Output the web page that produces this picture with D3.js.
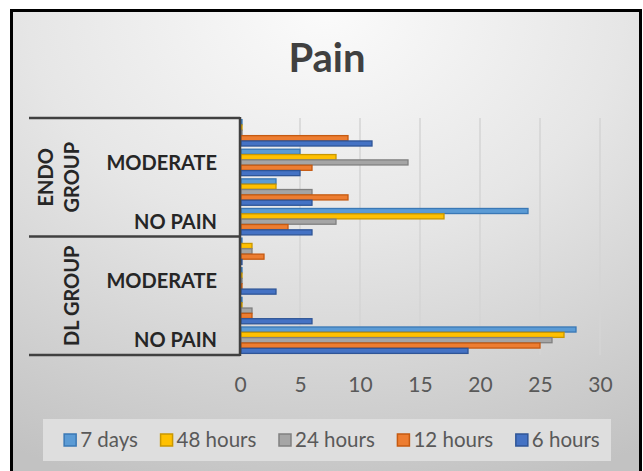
<!DOCTYPE html>
<html><head><meta charset="utf-8">
<script src="https://cdn.jsdelivr.net/npm/d3@7"></script>
<style>html,body{margin:0;padding:0;background:#fff}svg{display:block}</style>
</head><body>
<svg id="chart" width="643" height="471"></svg>
<script>
// ---- data ----
const groups = ["ENDO GROUP", "DL GROUP"];            // top to bottom
const categories = ["SEVERE", "MODERATE", "MILD", "NO PAIN"]; // top to bottom inside each group
const shownCategories = ["MODERATE", "NO PAIN"];
const seriesNames = ["7 days", "48 hours", "24 hours", "12 hours", "6 hours"];
const seriesColors = ["#5B9BD5", "#FFC000", "#A5A5A5", "#ED7D31", "#4472C4"];
const seriesStrokes = ["#3A78B5", "#C99700", "#808080", "#C55A11", "#2F5597"];
// values per series, in order [NO PAIN, MILD, MODERATE, SEVERE]
const dl7days   = [28, 0, 0, 0];
const dl48hours = [27, 0, 0, 1];
const dl24hours = [26, 1, 0, 1];
const dl12hours = [25, 1, 0, 2];
const dl6hours  = [19, 6, 3, 0];
const endo7days   = [24, 3, 5, 0];
const endo48hours = [17, 3, 8, 0];
const endo24hours = [8, 6, 14, 0];
const endo12hours = [4, 9, 6, 9];
const endo6hours  = [6, 6, 5, 11];
const levelOrder = ["NO PAIN", "MILD", "MODERATE", "SEVERE"];
const xTicks = [0, 5, 10, 15, 20, 25, 30];

const groupData = {
  "DL GROUP":   [dl7days, dl48hours, dl24hours, dl12hours, dl6hours],
  "ENDO GROUP": [endo7days, endo48hours, endo24hours, endo12hours, endo6hours]
};

const svg = d3.select("#chart");
const W = 643, H = 471;
const defs = svg.append("defs");
const rg = defs.append("radialGradient").attr("id", "bg")
  .attr("cx", "50%").attr("cy", "0%").attr("r", "105%").attr("fx", "50%").attr("fy", "0%");
rg.append("stop").attr("offset", "0%").attr("stop-color", "#fbfbfb");
rg.append("stop").attr("offset", "45%").attr("stop-color", "#e6e6e6");
rg.append("stop").attr("offset", "100%").attr("stop-color", "#c2c2c2");

svg.append("rect").attr("width", W).attr("height", H).attr("fill", "#ffffff");
svg.append("rect").attr("x", 11.5).attr("y", 10.5).attr("width", 629).attr("height", 475)
  .attr("fill", "url(#bg)").attr("stroke", "#000").attr("stroke-width", 3);

// title
svg.append("text").attr("x", 327).attr("y", 72).attr("text-anchor", "middle")
  .attr("font-family", "Lato").attr("font-weight", "bold").attr("font-size", 40)
  .attr("fill", "#404040").text("Pain");

// scales
const x = d3.scaleLinear().domain([0, 30]).range([240, 600]);
const rows = [];
groups.forEach(g => categories.forEach(c => rows.push(g + "|" + c)));
const y = d3.scaleBand().domain(rows).range([118, 355]).paddingInner(0.09).paddingOuter(0.045);
const yi = d3.scaleBand().domain(seriesNames).range([0, y.bandwidth()]).padding(0.05);

// gridlines
svg.append("g").selectAll("line").data(xTicks.filter(d => d > 0)).join("line")
  .attr("x1", d => x(d)).attr("x2", d => x(d)).attr("y1", 118).attr("y2", 355)
  .attr("stroke", "#d4d4d4").attr("stroke-width", 1.5);

// bars
const bars = [];
groups.forEach(g => {
  seriesNames.forEach((s, si) => {
    groupData[g][si].forEach((v, li) => {
      bars.push({g, level: levelOrder[li], s, si, v});
    });
  });
});
svg.append("g").selectAll("rect").data(bars).join("rect")
  .attr("x", x(0) + 1)
  .attr("y", d => y(d.g + "|" + d.level) + yi(d.s))
  .attr("width", d => Math.max(1, x(d.v) - x(0) - 1))
  .attr("height", yi.bandwidth())
  .attr("fill", d => seriesColors[d.si])
  .attr("stroke", d => seriesStrokes[d.si])
  .attr("stroke-width", 1.3);

// category axis structure
const axisG = svg.append("g");
axisG.append("line").attr("x1", 240).attr("x2", 240).attr("y1", 117).attr("y2", 356)
  .attr("stroke", "#404040").attr("stroke-width", 2.5);
axisG.selectAll("line.sep").data([118, (118 + 355) / 2, 355]).join("line").attr("class", "sep")
  .attr("x1", 29).attr("x2", 240).attr("y1", d => d).attr("y2", d => d)
  .attr("stroke", "#404040").attr("stroke-width", 2.5);

// category labels (every other one shown)
const labelRows = [];
groups.forEach(g => shownCategories.forEach(c => labelRows.push({g, c})));
axisG.selectAll("text.cat").data(labelRows).join("text").attr("class", "cat")
  .attr("x", 217).attr("y", d => y(d.g + "|" + d.c) + y.bandwidth() / 2)
  .attr("dy", "0.36em").attr("text-anchor", "end")
  .attr("font-family", "Lato").attr("font-weight", "bold").attr("font-size", 20)
  .attr("fill", "#262626").text(d => d.c);

// group labels (rotated)
const groupCenter = g => {
  const first = y(g + "|" + categories[0]), last = y(g + "|" + categories[3]) + y.bandwidth();
  return (first + last) / 2;
};
const endoY = groupCenter("ENDO GROUP"), dlY = groupCenter("DL GROUP");
const gl = axisG.append("text").attr("transform", `translate(59,${endoY}) rotate(-90)`)
  .attr("text-anchor", "middle").attr("font-family", "Lato").attr("font-weight", "bold")
  .attr("font-size", 20).attr("fill", "#262626");
gl.append("tspan").attr("x", 0).attr("dy", "-0.3em").text("ENDO");
gl.append("tspan").attr("x", 0).attr("dy", "1.3em").text("GROUP");
axisG.append("text").attr("transform", `translate(72,${dlY}) rotate(-90)`)
  .attr("text-anchor", "middle").attr("dy", "0.36em").attr("font-family", "Lato").attr("font-weight", "bold")
  .attr("font-size", 20).attr("fill", "#262626").text("DL GROUP");

// x axis labels
const xAxis = d3.axisBottom(x).tickValues(xTicks).tickSize(0).tickPadding(0).tickFormat(d3.format("d"));
const xa = svg.append("g").attr("transform", "translate(0,377)").call(xAxis);
xa.select(".domain").remove();
xa.selectAll("text").attr("font-family", "Lato").attr("font-size", 21).attr("fill", "#595959")
  .attr("dy", "0.71em");

// legend
svg.append("rect").attr("x", 43).attr("y", 419).attr("width", 568).attr("height", 42)
  .attr("fill", "#dedede");
const lg = svg.append("g");
const items = lg.selectAll("g").data(seriesNames).join("g");
items.append("rect").attr("width", 12).attr("height", 12).attr("y", -6)
  .attr("fill", (d, i) => seriesColors[i]).attr("stroke", (d, i) => seriesStrokes[i]).attr("stroke-width", 1.5);
items.append("text").attr("x", 16).attr("dy", "0.36em").attr("font-family", "Lato")
  .attr("font-size", 20.5).attr("fill", "#595959").text(d => d);
let widths = [];
items.each(function() { widths.push(this.getBBox().width); });
const gap = 22.5;
const total = d3.sum(widths) + gap * (widths.length - 1);
let cx = 332 - total / 2;
items.attr("transform", (d, i) => { const t = `translate(${cx},440)`; cx += widths[i] + gap; return t; });
</script>
</body></html>
